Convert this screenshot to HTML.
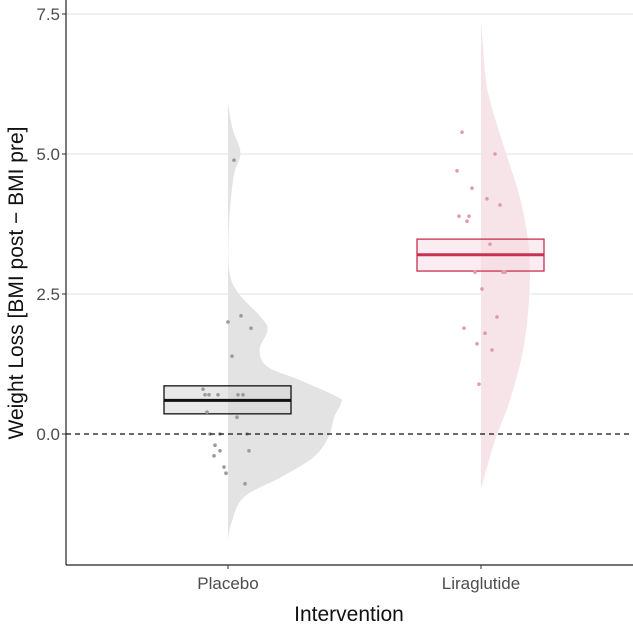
<!DOCTYPE html>
<html><head><meta charset="utf-8"><style>
body{margin:0;background:#fff;font-family:"Liberation Sans",sans-serif}
</style></head><body>
<svg id="c" width="633" height="636" xmlns="http://www.w3.org/2000/svg"></svg>
<script>
const groups=["Placebo","Liraglutide"];
const placeboPts=[4.89,2.11,2.0,1.89,1.39,0.8,0.7,0.7,0.7,0.7,0.7,0.39,0.3,0,0,0,-0.2,-0.3,-0.3,-0.39,-0.59,-0.7,-0.89];
const liraPts=[5.39,5.0,4.7,4.39,4.2,4.09,3.89,3.89,3.8,3.39,2.89,2.89,2.89,2.59,2.09,1.89,1.8,1.61,1.5,0.89];
const placeboBox=[0.36,0.6,0.86];
const liraBox=[2.91,3.2,3.48];
const densY=[5.91,5.45,5.02,4.6,3.77,2.93,2.52,2.09,1.86,1.5,1.2,0.96,0.66,0.55,0.3,-0.05,-0.41,-0.77,-1.13,-1.59,-1.9];
const placeboDens=[0,0.04,0.11,0.05,0.01,0.01,0.09,0.29,0.35,0.28,0.35,0.64,0.97,1.0,0.94,0.89,0.76,0.47,0.14,0.03,0];
const liraY=[7.4,6.5,5.96,5.07,4.2,3.3,2.4,1.5,0.6,-0.1,-0.8,-1.0];
const liraDens=[0,0.08,0.18,0.49,0.8,0.98,0.98,0.86,0.59,0.29,0.06,0];
const yTicks=[0,2.5,5.0,7.5];
const placeboJit=[6,13,0,23,4,-25,-23,-19,-10,10,15,-21,9,-18,-8,19,-13,-8,21,-14,-4,-2,17];
const liraJit=[-19,14,-24,-9,6,19,-22,-12,-14,9,-6,22,24,1,16,-17,4,-4,11,-2];
const L=66,B=565,R=633;
const y=v=>434-v*56;
const xc=i=>[228,481][i];
const S="http://www.w3.org/2000/svg";
const svg=document.getElementById('c');
function el(t,a,p){const e=document.createElementNS(S,t);for(const k in a)e.setAttribute(k,a[k]);(p||svg).appendChild(e);return e;}
yTicks.forEach(t=>{if(t!==0){const g=el('line',{x1:L,x2:R,y1:y(t),y2:y(t),stroke:'#e3e3e3','stroke-width':1});

}
const tk=el('line',{x1:L-4,x2:L,y1:y(t),y2:y(t),stroke:'#333'});


const lb=el('text',{x:L-6,y:y(t)+6,'text-anchor':'end','font-size':17,fill:'#4d4d4d'});lb.textContent=t.toFixed(1);

});
function violin(i,ys,ds,maxw,fill,name){
const P=ys.map((v,k)=>[xc(i)+ds[k]*maxw,y(v)]);
let d=`M${xc(i)},${P[0][1]} L${P[0][0]},${P[0][1]}`;
for(let k=0;k<P.length-1;k++){const p0=P[Math.max(0,k-1)],p1=P[k],p2=P[k+1],p3=P[Math.min(P.length-1,k+2)];
const c1=[p1[0]+(p2[0]-p0[0])/6,p1[1]+(p2[1]-p0[1])/6],c2=[p2[0]-(p3[0]-p1[0])/6,p2[1]-(p3[1]-p1[1])/6];
d+=` C${c1[0]},${c1[1]} ${c2[0]},${c2[1]} ${p2[0]},${p2[1]}`;}
d+=` L${xc(i)},${P[P.length-1][1]}Z`;
const p=el('path',{d:d,fill:fill});

}
violin(0,densY,placeboDens,113,'#e3e3e3','placebo-density');
violin(1,liraY,liraDens,49,'#f6e4e9','liraglutide-density');
function pts(i,arr,jit,col,name){
arr.forEach((v,k)=>{const c=el('circle',{cx:xc(i)+jit[k%jit.length],cy:y(v),r:1.8,fill:col});

});}
function box(i,b,fill,stroke,name){const g=el('g',{});


el('rect',{x:xc(i)-64,y:y(b[2]),width:127,height:y(b[0])-y(b[2]),fill:fill,'fill-opacity':0.55,stroke:stroke,'stroke-width':1.3},g);
el('line',{x1:xc(i)-64,x2:xc(i)+63,y1:y(b[1]),y2:y(b[1]),stroke:stroke,'stroke-width':3},g);}
box(0,placeboBox,'#d6d6d6','#111','placebo-box');
box(1,liraBox,'#f6dde4','#c8314f','liraglutide-box');
pts(0,placeboPts,placeboJit,'#9a9a9a','placebo-point');
pts(1,liraPts,liraJit,'#e09aae','liraglutide-point');
const z=el('line',{x1:L,x2:R,y1:y(0),y2:y(0),stroke:'#111','stroke-width':1.2,'stroke-dasharray':'5,4'});


el('line',{x1:L,x2:L,y1:0,y2:B,stroke:'#222','stroke-width':1.2});
el('line',{x1:L,x2:R,y1:B,y2:B,stroke:'#222','stroke-width':1.2});
groups.forEach((g,i)=>{const tk=el('line',{x1:xc(i),x2:xc(i),y1:B,y2:B+4,stroke:'#333'});


const t=el('text',{x:xc(i),y:B+24,'text-anchor':'middle','font-size':17,fill:'#4d4d4d'});t.textContent=g;

});
const xt=el('text',{x:349,y:621,'text-anchor':'middle','font-size':21,fill:'#111'});xt.textContent='Intervention';


const yt=el('text',{x:0,y:0,'text-anchor':'middle','font-size':21,fill:'#111',transform:'translate(23,283) rotate(-90)'});yt.textContent='Weight Loss [BMI post \u2212 BMI pre]';


</script>
</body></html>
